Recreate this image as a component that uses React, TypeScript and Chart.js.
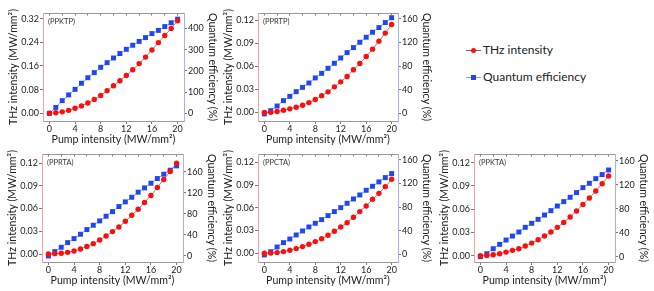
import React, { useEffect, useRef } from "react";
import { Chart, registerables } from "chart.js";

Chart.register(...registerables);

// ---------- data ----------
const pumpIntensity = [0, 1, 2, 3, 4, 5, 6, 7, 8, 9, 10, 11, 12, 13, 14, 15, 16, 17, 18, 19, 20];
const xTickValues = [0, 4, 8, 12, 16, 20];
const xTopTickValues = [0, 2, 4, 6, 8, 10, 12, 14, 16, 18, 20];

const ppktpTHz = [0, 0.002, 0.005, 0.010, 0.017, 0.025, 0.035, 0.047, 0.060, 0.076, 0.093, 0.110, 0.128, 0.147, 0.168, 0.190, 0.214, 0.239, 0.263, 0.287, 0.313];
const ppktpQE = [0, 28, 60, 87, 113, 142, 168, 192, 217, 239, 261, 282, 302, 321, 339, 357, 376, 391, 409, 427, 444];

const pprtpTHz = [0, 0.0003, 0.0013, 0.003, 0.0048, 0.007, 0.0096, 0.013, 0.017, 0.022, 0.027, 0.0335, 0.040, 0.047, 0.0557, 0.064, 0.073, 0.0826, 0.093, 0.1035, 0.1148];
const pprtpQE = [-1, 4.5, 12.4, 21.5, 28.8, 36.7, 44, 51.4, 60, 67.8, 76.3, 84.8, 93.8, 102.9, 111.4, 120.4, 128.9, 137.4, 145.3, 153.8, 162];

const pprtaTHz = [0, 0.0005, 0.001, 0.0022, 0.004, 0.0066, 0.0101, 0.0137, 0.0185, 0.0238, 0.0296, 0.0357, 0.0432, 0.0512, 0.0591, 0.068, 0.0772, 0.0878, 0.0984, 0.109, 0.12];
const pprtaQE = [0, 8.3, 16.5, 25.4, 33, 41.3, 50.2, 58.4, 66.7, 75.6, 84.4, 94, 102.9, 111.7, 121.3, 129.5, 138.4, 147.3, 155.6, 163.2, 171.4];

const ppctaTHz = [0, 0.0003, 0.0009, 0.0022, 0.004, 0.0062, 0.0088, 0.0119, 0.0154, 0.0193, 0.0237, 0.029, 0.0347, 0.0404, 0.0475, 0.055, 0.0624, 0.0712, 0.0791, 0.0879, 0.0976];
const ppctaQE = [-1, 4.5, 12.4, 19.8, 26, 32.8, 39.6, 46.4, 52.6, 58.8, 65.6, 72.4, 79.1, 86.5, 93.8, 100.6, 108.5, 115.3, 122.7, 130, 136.8];

const ppktaTHz = [0, 0.0003, 0.0013, 0.0026, 0.0047, 0.0069, 0.009, 0.0125, 0.0163, 0.0206, 0.0254, 0.0305, 0.0366, 0.043, 0.0499, 0.0576, 0.0662, 0.0744, 0.0834, 0.0929, 0.1028];
const ppktaQE = [0, 5, 13.3, 20.6, 27.8, 34.4, 41.1, 48.9, 55.6, 62.2, 69.4, 76.7, 84.4, 91.7, 98.9, 106.7, 115, 122.2, 130, 136.7, 144.4];

const thzTicksLarge = [0, 0.08, 0.16, 0.24, 0.32];
const qeTicksLarge = [0, 100, 200, 300, 400];
const thzTicksSmall = [0, 0.03, 0.06, 0.09, 0.12];
const qeTicksSmall = [0, 40, 80, 120, 160];

const crystalNames = ["(PPKTP)", "(PPRTP)", "(PPRTA)", "(PPCTA)", "(PPKTA)"];
const seriesNames = ["THz intensity", "Quantum efficiency"];
const xTitle = "Pump intensity (MW/mm\u00B2)";
const yLeftTitle = "THz intensity (MW/mm\u00B2)";
const yRightTitle = "Quantum efficiency (%)";

// ---------- layout / style ----------
const FONT = "Lato, 'Open Sans', sans-serif";
const TEXT = "#222";
const RED = "#ff0d0d";
const BLUE = "#1f46f2";
const RED_LINE = "#6a6a6a";
const BLUE_LINE = "#86a0f2";
const LEFT_AXIS = "#f2a2a2";
const RIGHT_AXIS = "#a3b2f2";
const GRAY_AXIS = "#9a9a9a";
const TICK_COLOR = "#777";

const LW = 40, RW = 46, TH = 10, BH = 28;
const TITLE_SIZE = 10.6;
const TICK_SIZE = 9;
const LEFT_TITLE_GAP = 29;
const RIGHT_TITLE_GAP = 28;

type PanelCfg = {
  name: string;
  thz: number[];
  qe: number[];
  thzTicks: number[];
  qeTicks: number[];
  yMin: number; yMax: number;
  y2Min: number; y2Max: number;
  left: number; top: number; w: number; h: number;
};

const panels: PanelCfg[] = [
  { name: crystalNames[0], thz: ppktpTHz, qe: ppktpQE, thzTicks: thzTicksLarge, qeTicks: qeTicksLarge,
    yMin: -0.026, yMax: 0.339, y2Min: -36, y2Max: 473, left: 43, top: 13, w: 141, h: 108 },
  { name: crystalNames[1], thz: pprtpTHz, qe: pprtpQE, thzTicks: thzTicksSmall, qeTicks: qeTicksSmall,
    yMin: -0.011, yMax: 0.1297, y2Min: -13, y2Max: 170, left: 258, top: 13, w: 140, h: 108 },
  { name: crystalNames[2], thz: pprtaTHz, qe: pprtaQE, thzTicks: thzTicksSmall, qeTicks: qeTicksSmall,
    yMin: -0.0105, yMax: 0.132, y2Min: -11.5, y2Max: 194, left: 42, top: 154, w: 141, h: 108 },
  { name: crystalNames[3], thz: ppctaTHz, qe: ppctaQE, thzTicks: thzTicksSmall, qeTicks: qeTicksSmall,
    yMin: -0.0115, yMax: 0.131, y2Min: -13, y2Max: 170, left: 258, top: 154, w: 140, h: 108 },
  { name: crystalNames[4], thz: ppktaTHz, qe: ppktaQE, thzTicks: thzTicksSmall, qeTicks: qeTicksSmall,
    yMin: -0.0081, yMax: 0.1312, y2Min: -8.8, y2Max: 171, left: 474, top: 154, w: 141, h: 108 },
];

const panelLabelPlugin = {
  id: "panelLabel",
  afterDatasetsDraw(chart: any, _args: any, opts: any) {
    const { ctx, chartArea } = chart;
    ctx.save();
    ctx.font = `7.5px ${FONT}`;
    ctx.fillStyle = "#333";
    ctx.textBaseline = "middle";
    ctx.textAlign = "left";
    ctx.fillText(opts.text, chartArea.left + 5, chartArea.top + 8.5);
    ctx.restore();
  },
};

function Panel({ cfg }: { cfg: PanelCfg }) {
  const ref = useRef<HTMLCanvasElement>(null);
  const cw = LW + cfg.w + RW;
  const ch = TH + cfg.h + BH;

  useEffect(() => {
    const tickFont = { family: FONT, size: TICK_SIZE };
    const titleFont = { family: FONT, size: TITLE_SIZE };
    const halfLine = (TITLE_SIZE * 1.2) / 2;
    const chart = new Chart(ref.current as HTMLCanvasElement, {
      type: "line",
      data: {
        datasets: [
          {
            label: seriesNames[0],
            data: cfg.thz.map((v, i) => ({ x: pumpIntensity[i], y: v })),
            yAxisID: "y",
            xAxisID: "x",
            borderColor: RED_LINE,
            borderWidth: 0.8,
            pointStyle: "circle",
            pointRadius: 2.7,
            pointBackgroundColor: RED,
            pointBorderWidth: 0,
            tension: 0,
          },
          {
            label: seriesNames[1],
            data: cfg.qe.map((v, i) => ({ x: pumpIntensity[i], y: v })),
            yAxisID: "y2",
            xAxisID: "x",
            borderColor: BLUE_LINE,
            borderWidth: 1,
            pointStyle: "rect",
            pointRadius: 3.5,
            pointBackgroundColor: BLUE,
            pointBorderWidth: 0,
            tension: 0,
          },
        ],
      },
      options: {
        responsive: false,
        animation: false,
        layout: { padding: 0 },
        plugins: {
          legend: { display: false },
          tooltip: { enabled: false },
          panelLabel: { text: cfg.name },
        } as any,
        scales: {
          x: {
            type: "linear",
            position: "bottom",
            min: -1,
            max: 21,
            afterBuildTicks: (s: any) => { s.ticks = xTickValues.map((v) => ({ value: v })); },
            afterFit: (s: any) => { s.height = BH; },
            ticks: { font: tickFont, color: TEXT, padding: 0, autoSkip: false, maxRotation: 0, callback: (v: any) => String(v) },
            grid: { drawOnChartArea: false, drawTicks: true, tickLength: 3, tickColor: TICK_COLOR },
            border: { color: GRAY_AXIS, width: 1 },
            title: { display: true, text: xTitle, font: titleFont, color: TEXT, padding: { top: 0, bottom: 3.5 } },
          },
          xTop: {
            type: "linear",
            position: "top",
            min: -1,
            max: 21,
            afterBuildTicks: (s: any) => { s.ticks = xTopTickValues.map((v) => ({ value: v })); },
            afterFit: (s: any) => { s.height = TH; },
            ticks: { display: false },
            grid: { drawOnChartArea: false, drawTicks: true, tickLength: -2.5, tickColor: TICK_COLOR },
            border: { color: GRAY_AXIS, width: 1 },
          },
          y: {
            type: "linear",
            position: "left",
            min: cfg.yMin,
            max: cfg.yMax,
            afterBuildTicks: (s: any) => { s.ticks = cfg.thzTicks.map((v) => ({ value: v })); },
            afterFit: (s: any) => { s.width = LW; },
            ticks: { font: tickFont, color: TEXT, padding: 1, autoSkip: false, callback: (v: any) => Number(v).toFixed(2) },
            grid: { drawOnChartArea: false, drawTicks: true, tickLength: 3, tickColor: TICK_COLOR },
            border: { color: LEFT_AXIS, width: 1 },
            title: { display: true, text: yLeftTitle, font: titleFont, color: TEXT, padding: { top: LW - LEFT_TITLE_GAP - halfLine, bottom: 0 } },
          },
          y2: {
            type: "linear",
            position: "right",
            min: cfg.y2Min,
            max: cfg.y2Max,
            afterBuildTicks: (s: any) => { s.ticks = cfg.qeTicks.map((v) => ({ value: v })); },
            afterFit: (s: any) => { s.width = RW; },
            ticks: { font: tickFont, color: TEXT, padding: 1, autoSkip: false, callback: (v: any) => String(Math.round(Number(v))) },
            grid: { drawOnChartArea: false, drawTicks: true, tickLength: 3, tickColor: TICK_COLOR },
            border: { color: RIGHT_AXIS, width: 1 },
            title: { display: true, text: yRightTitle, font: titleFont, color: TEXT, padding: { top: RW - RIGHT_TITLE_GAP - halfLine, bottom: 0 } },
          },
        },
      } as any,
      plugins: [panelLabelPlugin as any],
    });
    return () => chart.destroy();
  }, [cfg]);

  return (
    <canvas
      ref={ref}
      width={cw}
      height={ch}
      style={{ position: "absolute", left: cfg.left - LW, top: cfg.top - TH, width: cw, height: ch }}
    />
  );
}

function LegendRow({ y, color, lineColor, shape, text }: { y: number; color: string; lineColor: string; shape: "circle" | "square"; text: string }) {
  return (
    <div style={{ position: "absolute", left: 466, top: y - 8, height: 16, width: 180 }}>
      <div style={{ position: "absolute", left: 0, top: 7.5, width: 15, height: 1, background: lineColor }} />
      <div
        style={{
          position: "absolute",
          left: 5,
          top: 5.5,
          width: 5,
          height: 5,
          borderRadius: shape === "circle" ? "50%" : 0,
          background: color,
        }}
      />
      <div style={{ position: "absolute", left: 17, top: 0, lineHeight: "16px", fontFamily: FONT, fontSize: 12, color: TEXT, whiteSpace: "nowrap" }}>
        {text}
      </div>
    </div>
  );
}

export default function App() {
  return (
    <div style={{ position: "absolute", left: 0, top: 0, width: 654, height: 291, background: "#fff", overflow: "hidden" }}>
      {panels.map((p) => (
        <Panel key={p.name} cfg={p} />
      ))}
      <LegendRow y={50} color={RED} lineColor={RED_LINE} shape="circle" text={seriesNames[0]} />
      <LegendRow y={77} color={BLUE} lineColor={BLUE_LINE} shape="square" text={seriesNames[1]} />
    </div>
  );
}
